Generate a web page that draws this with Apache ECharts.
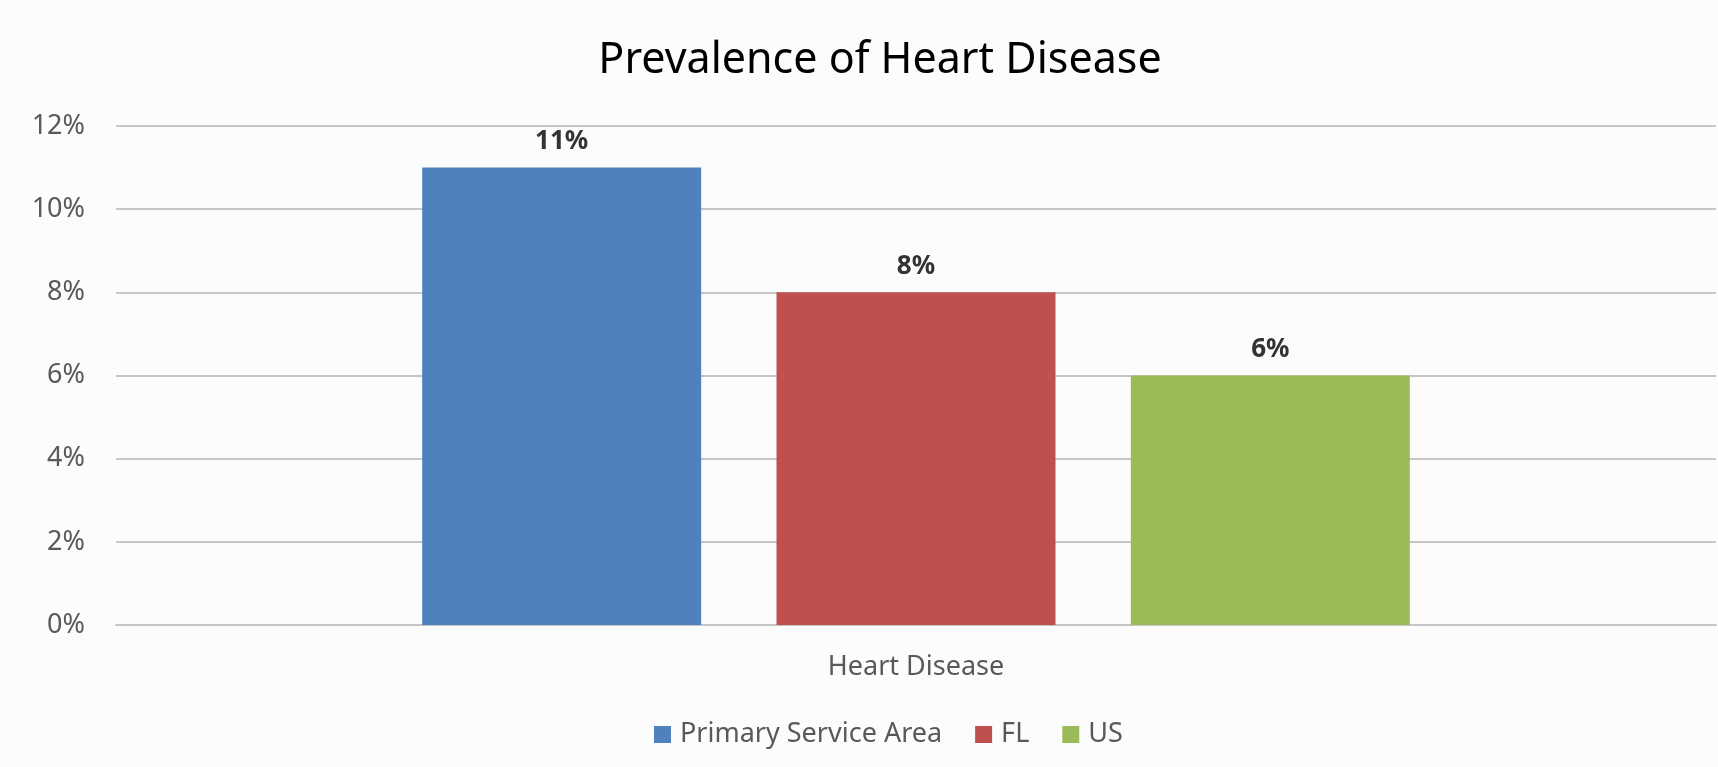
<!DOCTYPE html>
<html>
<head>
<meta charset="utf-8">
<title>Prevalence of Heart Disease</title>
<script src="https://cdn.jsdelivr.net/npm/echarts@6/dist/echarts.min.js"></script>
<style>
  html, body { margin: 0; padding: 0; background: #fcfcfc; }
  #chart { width: 1718px; height: 767px; }
</style>
</head>
<body>
<div id="chart"></div>
<script>
// --- data ---
const categories = ['Heart Disease'];
const seriesNames = ['Primary Service Area', 'FL', 'US'];
const seriesValues = [[11], [8], [6]];
const seriesColors = ['#4f81bd', '#c0504d', '#9bbb59'];
const yTicks = { min: 0, max: 12, interval: 2 };

const font = 'Noto Sans';
const chart = echarts.init(document.getElementById('chart'));

const option = {
  backgroundColor: '#fcfcfc',
  animation: false,
  title: {
    text: 'Prevalence of Heart Disease',
    left: 875,
    top: 34,
    textAlign: 'center',
    textStyle: { fontFamily: font, fontSize: 43, fontWeight: 'normal', color: '#000' }
  },
  legend: {
    data: seriesNames,
    left: 649,
    top: 716,
    itemWidth: 17,
    itemHeight: 17,
    itemGap: 33,
    icon: 'rect',
    textStyle: { fontFamily: font, fontSize: 27, color: '#595959', padding: [0, 0, 0, 4] }
  },
  grid: { left: 116, right: 2, top: 126, bottom: 142 },
  xAxis: {
    type: 'category',
    data: categories,
    axisLine: { show: true, lineStyle: { color: '#c6c6c6', width: 2 } },
    axisTick: { show: false },
    axisLabel: { fontFamily: font, fontSize: 27, color: '#595959', margin: 29 }
  },
  yAxis: {
    type: 'value',
    min: yTicks.min,
    max: yTicks.max,
    interval: yTicks.interval,
    axisLine: { show: false },
    axisTick: { show: false },
    splitLine: { lineStyle: { color: '#c6c6c6', width: 2 } },
    axisLabel: { fontFamily: font, fontSize: 27, color: '#595959', margin: 31, formatter: '{value}%' }
  },
  series: seriesNames.map((name, i) => ({
    name: name,
    type: 'bar',
    data: seriesValues[i],
    barWidth: 279,
    barGap: '27%',
    itemStyle: { color: seriesColors[i] },
    label: {
      show: true,
      position: 'top',
      distance: 13,
      formatter: '{c}%',
      fontFamily: font,
      fontSize: 26,
      fontWeight: 'bold',
      color: '#333'
    }
  }))
};

chart.setOption(option);
</script>
</body>
</html>
